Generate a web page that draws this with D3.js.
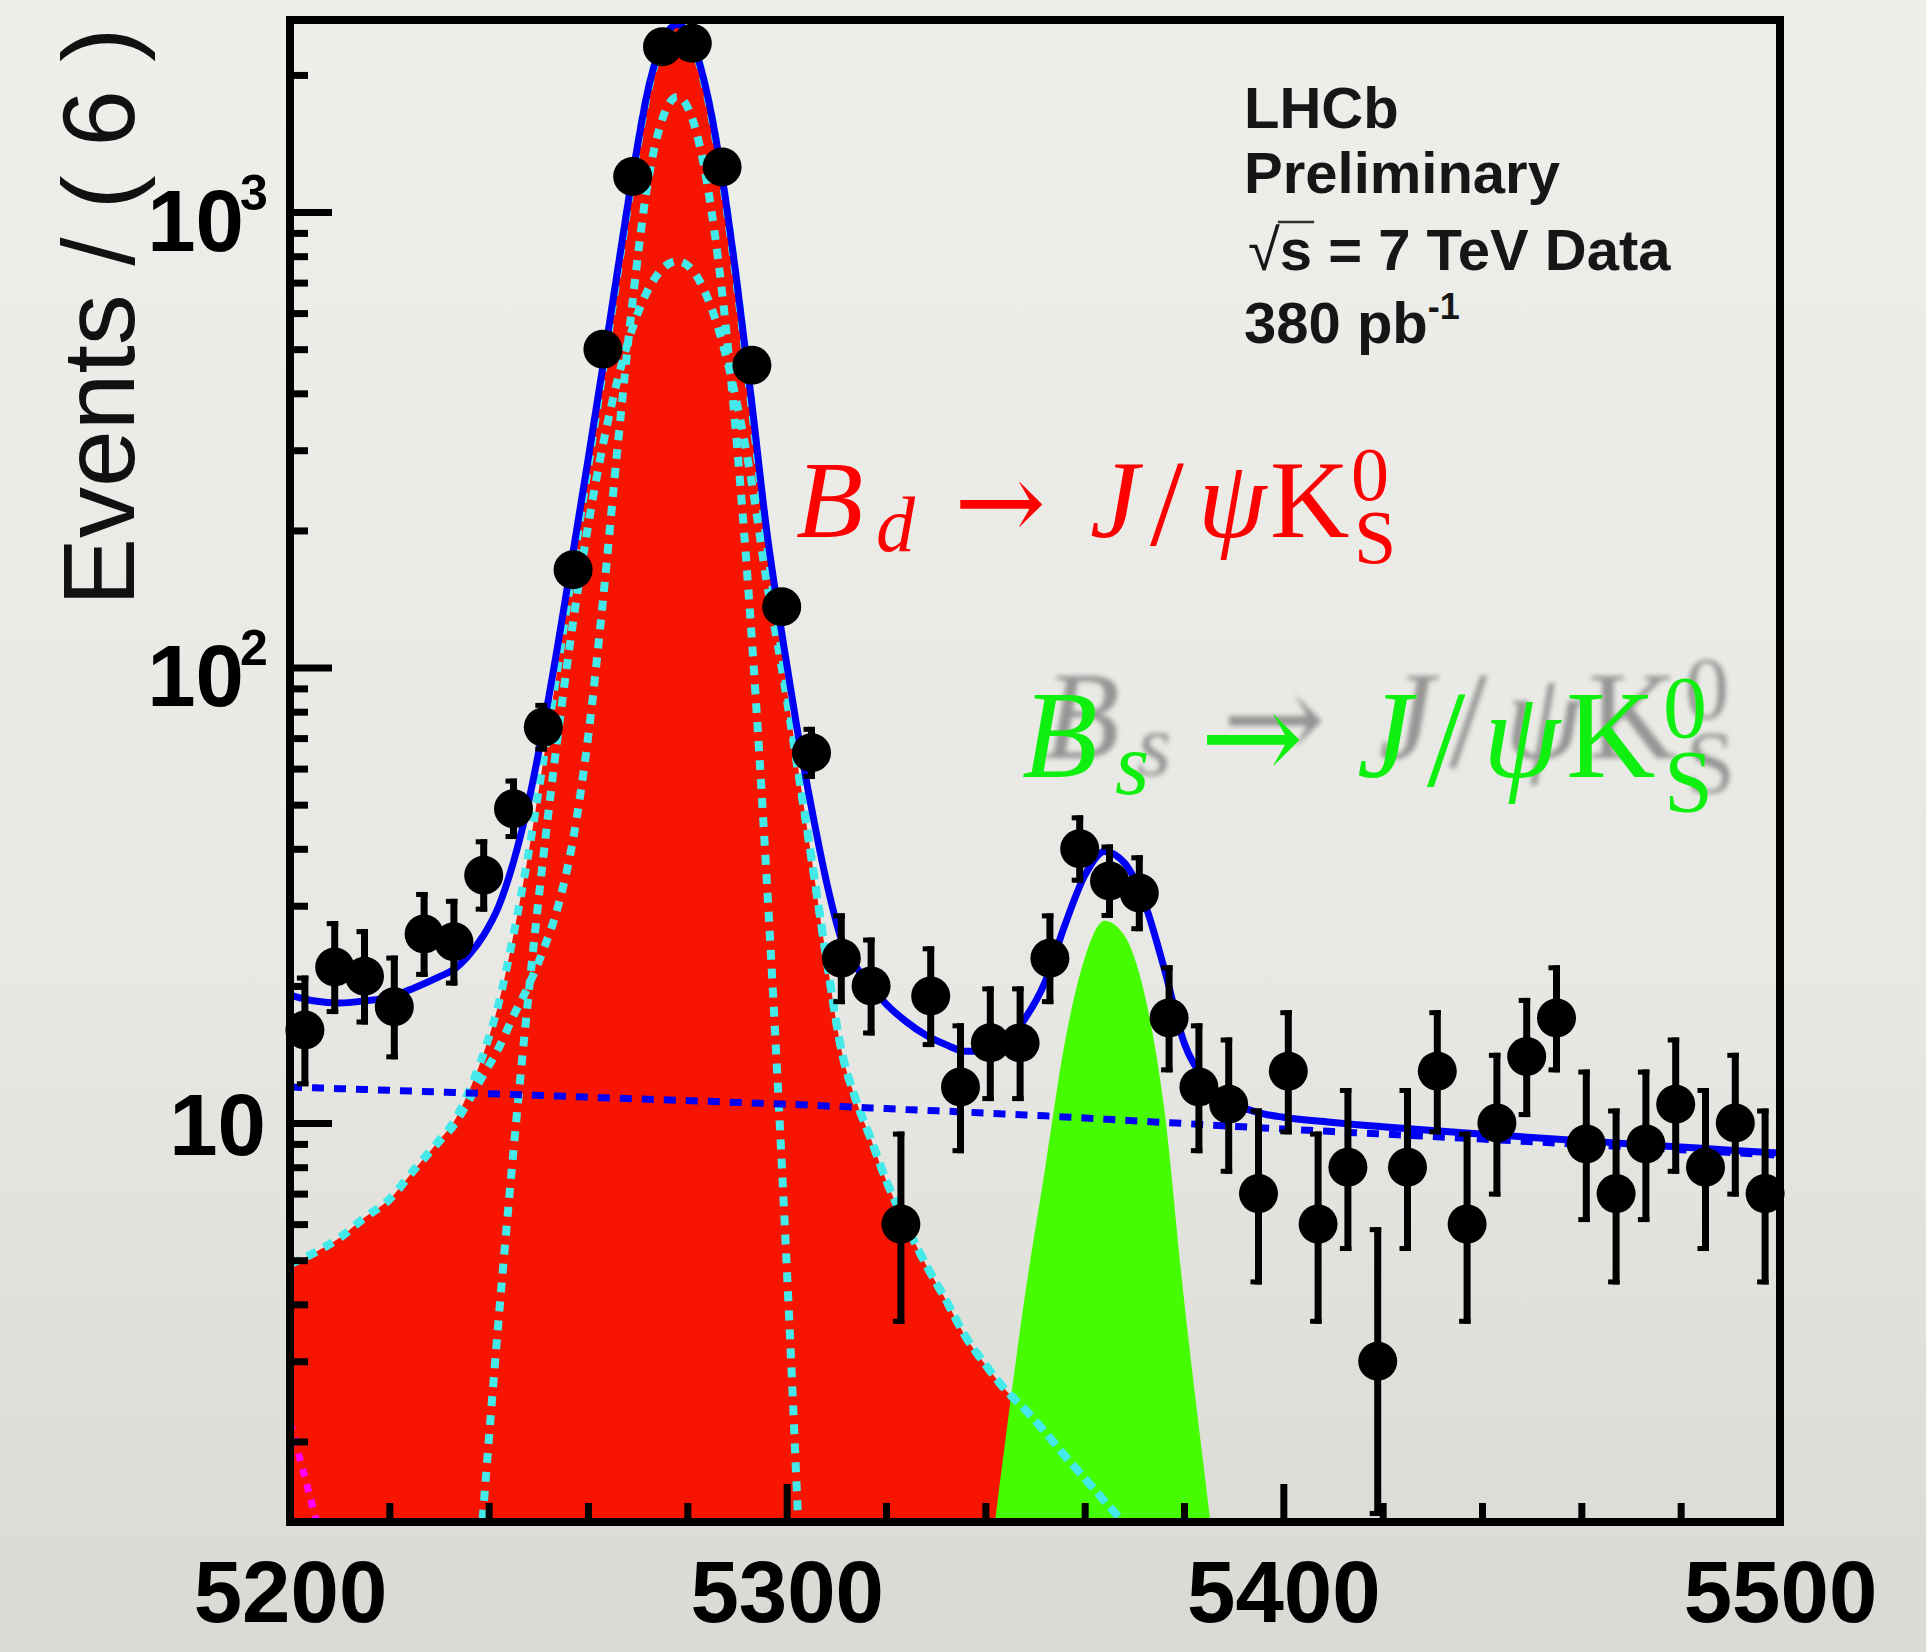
<!DOCTYPE html>
<html>
<head>
<meta charset="utf-8">
<script src="https://cdn.jsdelivr.net/npm/d3@7"></script>
<style>
  html, body { margin: 0; padding: 0; background: #e6e6e2; }
  svg { display: block; }
</style>
</head>
<body>
<svg id="chart" width="1926" height="1652"></svg>
<script>
// ---- Data: J/psi KS invariant mass, 6 MeV bins ----
const binCentres = [5203, 5209, 5215, 5221, 5227, 5233, 5239, 5245, 5251, 5257,
                    5263, 5269, 5275, 5281, 5287, 5293, 5299, 5305, 5311, 5317,
                    5323, 5329, 5335, 5341, 5347, 5353, 5359, 5365, 5371, 5377,
                    5383, 5389, 5395, 5401, 5407, 5413, 5419, 5425, 5431, 5437,
                    5443, 5449, 5455, 5461, 5467, 5473, 5479, 5485, 5491, 5497];
const eventCounts = [16, 22, 21, 18, 26, 25, 35, 49, 74, 164,
                     500, 1197, 2307, 2346, 1256, 461, 136, 65, 23, 20,
                     6, 19, 12, 15, 15, 23, 40, 34, 32, 17,
                     12, 11, 7, 13, 6, 8, 3, 8, 13, 6,
                     10, 14, 17, 9, 7, 9, 11, 8, 10, 7];

// ---- Fit components sampled along the mass axis (events / 6 MeV) ----
const curveMass = [5200, 5205, 5210, 5215, 5220, 5225, 5230, 5233, 5236, 5239,
                   5242, 5245, 5248, 5251, 5254, 5257, 5260, 5263, 5266, 5269,
                   5272, 5275, 5278, 5281, 5284, 5287, 5290, 5293, 5296, 5299,
                   5302, 5305, 5308, 5311, 5314, 5317, 5320, 5324, 5328, 5332,
                   5336, 5340, 5344, 5348, 5352, 5356, 5360, 5364, 5368, 5372,
                   5376, 5380, 5384, 5388, 5392, 5396, 5400, 5410, 5420, 5430,
                   5440, 5450, 5460, 5470, 5480, 5490, 5500];
// B0 signal, narrow core with low-mass tail
const bdCore = [4.9, 5.2, 5.6, 6.2, 6.8, 7.9, 9.1, 9.9, 11.2, 12.8,
                14.6, 17.2, 20, 24, 30, 42, 70, 140, 308, 640,
                1153, 1604, 1790, 1604, 1153, 666, 308, 115, 34, 8.2,
                1.6, 0.24, 0.02, 0, 0, 0, 0, 0, 0, 0,
                0, 0, 0, 0, 0, 0, 0, 0, 0, 0,
                0, 0, 0, 0, 0, 0, 0, 0, 0, 0,
                0, 0, 0, 0, 0, 0, 0];
// B0 signal, wide component with high-mass tail
const bdWide = [0, 0, 0, 0, 0, 0, 0.057, 0.18, 0.53, 1.45,
                3.7, 8.7, 19, 38.4, 72, 126, 204, 308, 430, 558,
                672, 751, 780, 746, 651, 520, 380, 253, 154, 100,
                62, 38, 23, 14.5, 11.2, 9.2, 7.5, 6.0, 4.9, 4.1,
                3.4, 2.95, 2.6, 2.35, 2.1, 1.86, 1.66, 1.48, 1.32, 1.17,
                1.05, 0.95, 0.86, 0.78, 0.7, 0.63, 0.57, 0.45, 0.36, 0.29,
                0.24, 0.2, 0.17, 0.14, 0.12, 0.1, 0.09];
// Bs signal
const bsSignal = [0, 0, 0, 0, 0, 0, 0, 0, 0, 0,
                  0, 0, 0, 0, 0, 0, 0, 0, 0, 0,
                  0, 0, 0, 0, 0, 0, 0, 0, 0, 0,
                  0, 0, 0, 0, 0, 0, 0, 0.01, 0.04, 0.15,
                  0.4, 0.9, 2.0, 4.2, 7.9, 15, 23, 27.8, 25.8, 19.3,
                  10.8, 4.1, 1.75, 0.75, 0.3, 0.1, 0.03, 0.003, 0, 0,
                  0, 0, 0, 0, 0, 0, 0];
// combinatorial background
const combinatorial = [12.0, 11.95, 11.9, 11.85, 11.8, 11.75, 11.7, 11.67, 11.64, 11.61,
                       11.58, 11.55, 11.52, 11.49, 11.46, 11.43, 11.4, 11.37, 11.34, 11.31,
                       11.28, 11.25, 11.22, 11.19, 11.16, 11.13, 11.1, 11.07, 11.04, 11.01,
                       10.98, 10.94, 10.9, 10.87, 10.83, 10.79, 10.76, 10.71, 10.66, 10.62,
                       10.57, 10.52, 10.47, 10.42, 10.37, 10.31, 10.26, 10.2, 10.14, 10.09,
                       10.03, 9.98, 9.92, 9.86, 9.81, 9.75, 9.7, 9.58, 9.46, 9.34,
                       9.22, 9.1, 8.98, 8.86, 8.74, 8.62, 8.5];
// low-mass partially reconstructed background
const lowMassTail = [2.2, 1.38, 0.85, 0.5, 0.28, 0.15, 0.08, 0, 0, 0,
                     0, 0, 0, 0, 0, 0, 0, 0, 0, 0,
                     0, 0, 0, 0, 0, 0, 0, 0, 0, 0,
                     0, 0, 0, 0, 0, 0, 0, 0, 0, 0,
                     0, 0, 0, 0, 0, 0, 0, 0, 0, 0,
                     0, 0, 0, 0, 0, 0, 0, 0, 0, 0,
                     0, 0, 0, 0, 0, 0, 0];

// ---- Axis ticks ----
const xMajorTicks = [5200, 5300, 5400, 5500];
const xMinorTicks = [5220, 5240, 5260, 5280, 5320, 5340, 5360, 5380,
                     5420, 5440, 5460, 5480];
const yMajorTicks = [10, 100, 1000];
const yMajorLabels = [{base: "10", exp: ""}, {base: "10", exp: "2"}, {base: "10", exp: "3"}];
const yMinorTicks = [2, 3, 4, 5, 6, 7, 8, 9, 20, 30, 40, 50, 60, 70, 80, 90,
                     200, 300, 400, 500, 600, 700, 800, 900, 2000];

// ---- Tables built from the arrays ----
const curveTable = curveMass.map((m, i) => {
  const bd = bdCore[i] + bdWide[i];
  return {
    m, core: bdCore[i], wide: bdWide[i], bd, bs: bsSignal[i],
    bg: combinatorial[i], low: lowMassTail[i],
    total: bd + bsSignal[i] + combinatorial[i] + lowMassTail[i]
  };
});

// 68.3% central Poisson interval (Wilson-Hilferty form of the chi2 quantile)
function poissonInterval(n) {
  const q = (k, z) => { const a = 2 / (9 * k); return k * Math.pow(1 - a + z * Math.sqrt(a), 3); };
  return [n > 0 ? 0.5 * q(2 * n, -1) : 0, 0.5 * q(2 * n + 2, 1)];
}
const points = binCentres.map((m, i) => {
  const n = eventCounts[i];
  const [lo, hi] = poissonInterval(n);
  return {m, n, lo, hi};
});

// ---- Layout ----
const W = 1926, H = 1652;
const plot = {left: 290, right: 1780, top: 20, bottom: 1522};
const x = d3.scaleLinear().domain([5200, 5500]).range([plot.left, plot.right]);
const y = d3.scaleLog().domain([1.331, 2640]).range([plot.bottom, plot.top]);

const svg = d3.select("#chart");
const defs = svg.append("defs");
const grad = defs.append("linearGradient").attr("id", "pageGrad")
  .attr("x1", 0).attr("y1", 0).attr("x2", 0).attr("y2", 1);
grad.append("stop").attr("offset", "0%").attr("stop-color", "#eeeeeb");
grad.append("stop").attr("offset", "60%").attr("stop-color", "#e7e7e3");
grad.append("stop").attr("offset", "100%").attr("stop-color", "#dadad4");
defs.append("clipPath").attr("id", "plotClip").append("rect")
  .attr("x", plot.left).attr("y", plot.top)
  .attr("width", plot.right - plot.left).attr("height", plot.bottom - plot.top);
defs.append("filter").attr("id", "soft").attr("x", "-10%").attr("y", "-10%")
  .attr("width", "120%").attr("height", "120%")
  .append("feGaussianBlur").attr("stdDeviation", 2.6);

svg.append("rect").attr("width", W).attr("height", H).attr("fill", "url(#pageGrad)");

// ---- Fit components ----
const areaFor = key => d3.area().defined(d => d[key] > 0)
  .x(d => x(d.m)).y0(plot.bottom).y1(d => y(d[key])).curve(d3.curveMonotoneX);
const lineFor = key => d3.line().defined(d => d[key] > 0)
  .x(d => x(d.m)).y(d => y(d[key])).curve(d3.curveMonotoneX);

const gFit = svg.append("g").attr("clip-path", "url(#plotClip)");
gFit.append("path").datum(curveTable).attr("d", areaFor("bd")).attr("fill", "#f71400");
gFit.append("path").datum(curveTable).attr("d", areaFor("bs")).attr("fill", "#45fc00");

const cyanStyle = p => p.attr("fill", "none").attr("stroke", "#44eaea")
  .attr("stroke-width", 8).attr("stroke-dasharray", "10 9");
["core", "wide", "bd"].forEach(k => {
  gFit.append("path").datum(curveTable).attr("d", lineFor(k)).call(cyanStyle);
});
gFit.append("path").datum(curveTable).attr("d", lineFor("low"))
  .attr("fill", "none").attr("stroke", "#ff00ff").attr("stroke-width", 7)
  .attr("stroke-dasharray", "8 8");
gFit.append("path").datum(curveTable).attr("d", lineFor("bg"))
  .attr("fill", "none").attr("stroke", "#0000f4").attr("stroke-width", 7)
  .attr("stroke-dasharray", "12 10");
gFit.append("path").datum(curveTable).attr("d", lineFor("total"))
  .attr("fill", "none").attr("stroke", "#0000f4").attr("stroke-width", 7)
  .attr("stroke-linejoin", "round");

// ---- Data points with Poisson error bars ----
const gData = svg.append("g");
const yLow = v => y(Math.max(v, y.domain()[0]));
gData.selectAll("line.bar").data(points).join("line").attr("class", "bar")
  .attr("x1", d => x(d.m)).attr("x2", d => x(d.m))
  .attr("y1", d => y(d.hi)).attr("y2", d => yLow(d.lo))
  .attr("stroke", "#000").attr("stroke-width", 7);
gData.selectAll("line.capTop").data(points).join("line").attr("class", "capTop")
  .attr("x1", d => x(d.m) - 8).attr("x2", d => x(d.m) + 3.5)
  .attr("y1", d => y(d.hi) + 2.5).attr("y2", d => y(d.hi) + 2.5)
  .attr("stroke", "#000").attr("stroke-width", 5);
gData.selectAll("line.capBot").data(points).join("line").attr("class", "capBot")
  .attr("x1", d => x(d.m) - 8).attr("x2", d => x(d.m) + 3.5)
  .attr("y1", d => yLow(d.lo) - 2.5).attr("y2", d => yLow(d.lo) - 2.5)
  .attr("stroke", "#000").attr("stroke-width", 5);
gData.selectAll("circle").data(points).join("circle")
  .attr("cx", d => x(d.m)).attr("cy", d => y(d.n)).attr("r", 19.5).attr("fill", "#000");

// ---- Frame and axes ----
const sans = "'Liberation Sans', Arial, Helvetica, sans-serif";
svg.append("rect").attr("x", plot.left).attr("y", plot.top)
  .attr("width", plot.right - plot.left).attr("height", plot.bottom - plot.top)
  .attr("fill", "none").attr("stroke", "#000").attr("stroke-width", 8);

function styleAxis(g) {
  g.select(".domain").remove();
  g.attr("color", "#000");
  g.selectAll(".tick line").attr("stroke-width", 7);
}

// x axis
const gxMinor = svg.append("g").attr("transform", `translate(0,${plot.bottom})`)
  .call(d3.axisBottom(x).tickValues(xMinorTicks).tickSize(-19).tickFormat(""));
styleAxis(gxMinor);
const gxMajor = svg.append("g").attr("transform", `translate(0,${plot.bottom})`)
  .call(d3.axisBottom(x).tickValues(xMajorTicks).tickSize(-38).tickPadding(38)
        .tickFormat(d3.format("d")));
styleAxis(gxMajor);
gxMajor.selectAll(".tick text")
  .attr("font-family", sans).attr("font-weight", "bold").attr("font-size", 87)
  .attr("fill", "#000");

// y axis
const gyMinor = svg.append("g").attr("transform", `translate(${plot.left},0)`)
  .call(d3.axisLeft(y).tickValues(yMinorTicks).tickSize(-18).tickFormat(() => ""));
styleAxis(gyMinor);
const gyMajor = svg.append("g").attr("transform", `translate(${plot.left},0)`)
  .call(d3.axisLeft(y).tickValues(yMajorTicks).tickSize(-42).tickFormat(() => ""));
styleAxis(gyMajor);
gyMajor.selectAll(".tick").each(function(d, i) {
  const lab = yMajorLabels[i];
  const t = d3.select(this);
  if (!lab.exp) {
    t.append("text").attr("x", 266 - plot.left).attr("y", 31)
      .attr("text-anchor", "end").attr("font-family", sans).attr("font-weight", "bold")
      .attr("font-size", 87).attr("fill", "#000").text(lab.base);
  } else {
    t.append("text").attr("x", 244 - plot.left).attr("y", 38)
      .attr("text-anchor", "end").attr("font-family", sans).attr("font-weight", "bold")
      .attr("font-size", 87).attr("fill", "#000").text(lab.base);
    t.append("text").attr("x", 240 - plot.left).attr("y", -3)
      .attr("text-anchor", "start").attr("font-family", sans).attr("font-weight", "bold")
      .attr("font-size", 50).attr("fill", "#000").text(lab.exp);
  }
});

// y axis title
svg.append("text").attr("transform", "translate(134,606) rotate(-90)")
  .attr("font-family", sans).attr("font-size", 102).attr("fill", "#111")
  .text("Events / ( 6 )");

// ---- Experiment label ----
const info = svg.append("g").attr("font-family", sans).attr("font-weight", "bold")
  .attr("font-size", 58).attr("fill", "#161616");
info.append("text").attr("x", 1244).attr("y", 128).text("LHCb");
info.append("text").attr("x", 1244).attr("y", 193).text("Preliminary");
const rootLine = info.append("text").attr("x", 1248).attr("y", 270);
rootLine.append("tspan").attr("font-weight", "normal").text("√");
const sTspan = rootLine.append("tspan").text("s");
rootLine.append("tspan").text(" = 7 TeV Data");
{
  const bb = sTspan.node().getBBox();
  info.append("line").attr("x1", bb.x - 2).attr("x2", bb.x + bb.width + 2)
    .attr("y1", 222).attr("y2", 222).attr("stroke", "#333").attr("stroke-width", 2.5);
}
const lumi = info.append("text").attr("x", 1244).attr("y", 343);
lumi.append("tspan").text("380 pb");
lumi.append("tspan").attr("font-size", 36).attr("dy", -24).text("-1");

// ---- Decay labels ----
const serif = "'Liberation Serif', 'Times New Roman', 'DejaVu Serif', serif";
const arrowFont = "'DejaVu Serif', 'Liberation Serif', serif";
function drawFormula(g, pieces, fill) {
  g.selectAll("text").data(pieces).join("text")
    .attr("x", d => d.x).attr("y", d => d.y)
    .attr("font-family", d => d.arrow ? arrowFont : serif).attr("font-size", d => d.s)
    .attr("font-style", d => d.it ? "italic" : "normal")
    .attr("fill", fill).text(d => d.t);
}
const bdPieces = [
  {t: "B", x: 796, y: 537, s: 110, it: true},
  {t: "d", x: 876, y: 551, s: 78, it: true},
  {t: "→", x: 954, y: 540, s: 110, arrow: true},
  {t: "J", x: 1090, y: 537, s: 110, it: true},
  {t: "/", x: 1150, y: 545, s: 122},
  {t: "ψ", x: 1198, y: 537, s: 110, it: true},
  {t: "K", x: 1270, y: 537, s: 110},
  {t: "0", x: 1351, y: 500, s: 76},
  {t: "S", x: 1354, y: 563, s: 76}
];
const bsPieces = [
  {t: "B", x: 1022, y: 777, s: 124, it: true},
  {t: "s", x: 1115, y: 794, s: 88, it: true},
  {t: "→", x: 1200, y: 780, s: 124, arrow: true},
  {t: "J", x: 1357, y: 777, s: 124, it: true},
  {t: "/", x: 1427, y: 786, s: 138},
  {t: "ψ", x: 1483, y: 777, s: 124, it: true},
  {t: "K", x: 1566, y: 777, s: 124},
  {t: "0", x: 1663, y: 737, s: 88},
  {t: "S", x: 1664, y: 811, s: 88}
];
const ghost = svg.append("g").attr("transform", "translate(22,-19)")
  .attr("filter", "url(#soft)").attr("opacity", 0.8);
drawFormula(ghost, bsPieces, "#808080");
drawFormula(svg.append("g"), bdPieces, "#ff0000");
drawFormula(svg.append("g"), bsPieces, "#10f010");
</script>
</body>
</html>
